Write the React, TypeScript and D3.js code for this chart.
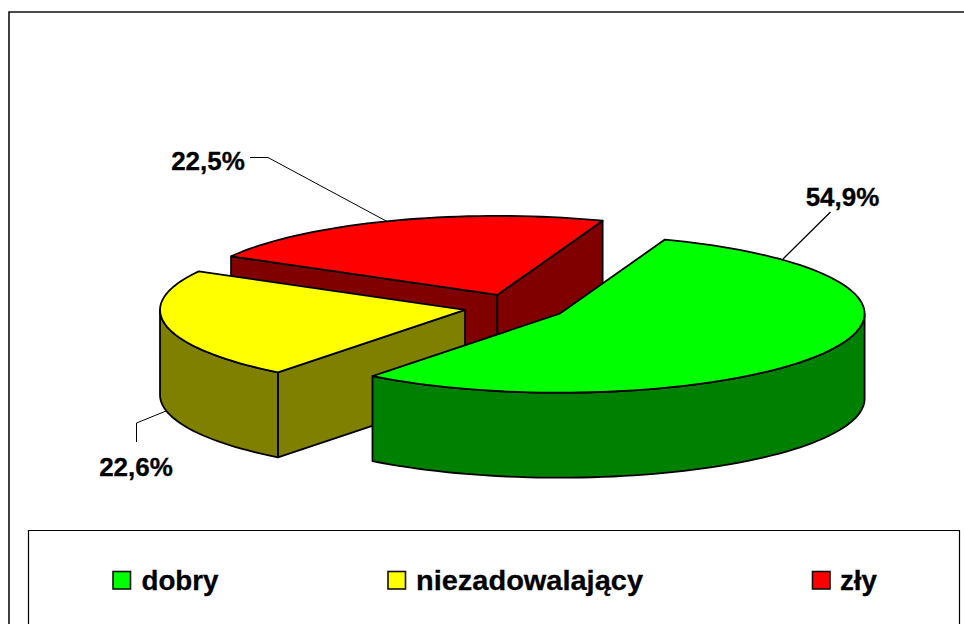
import React from 'react';
import * as d3 from 'd3';

const categories = ['dobry', 'niezadowalający', 'zły'];
const values = [54.9, 22.6, 22.5];
const percentLabels = ['54,9%', '22,6%', '22,5%'];
const topColors = ['#00ff00', '#ffff00', '#ff0000'];
const wallColors = ['#008000', '#808000', '#800000'];

const width = 964;
const height = 624;

// pie geometry, all slices pulled away from the same middle
const cx = 515;
const cy = 307.3;
const rx = 305;
const ry = 79;
const depth = 85;
const explode = 51;

const deg = Math.PI / 180;
const startAngle = 20.2 * deg;

const pie = d3.pie<number>().sort(null).startAngle(startAngle).endAngle(startAngle + 2 * Math.PI);
const line = d3.line<[number, number]>().x(d => d[0]).y(d => d[1]);

const project = (ox: number, oy: number, a: number): [number, number] => [
  ox + rx * Math.sin(a),
  oy - ry * Math.cos(a),
];

const arcPoints = (ox: number, oy: number, a0: number, a1: number): [number, number][] => {
  const n = Math.max(2, Math.ceil((a1 - a0) / (2 * deg)));
  return d3.range(n + 1).map(i => project(ox, oy, a0 + ((a1 - a0) * i) / n));
};

const drop = (p: [number, number]): [number, number] => [p[0], p[1] + depth];

// label text position and leader line per slice
const labelLayout = [
  { x: 842.5, y: 206, leader: [[830.5, 212], [783, 259]] as [number, number][], w: 1.3 },
  { x: 136, y: 476, leader: [[136.5, 442], [136.5, 423], [166, 411]] as [number, number][], w: 1 },
  { x: 208, y: 170, leader: [[250, 157.5], [268, 157.5], [388, 222]] as [number, number][], w: 1 },
];

const legendSwatchX = [113, 388, 812.5];
const legendTextX = [141.5, 416, 840];
const legendTextWidth = [77, 227, 37];
const font = '"Liberation Sans", Arial, sans-serif';

const App = () => {
  const arcs = pie(values);

  const slices = arcs.map((d, i) => {
    const mid = (d.startAngle + d.endAngle) / 2;
    const ox = cx + explode * Math.sin(mid);
    const oy = cy - explode * (ry / rx) * Math.cos(mid);
    const apex: [number, number] = [ox, oy];
    const rim = arcPoints(ox, oy, d.startAngle, d.endAngle);
    const top = line([apex, ...rim]) + 'Z';

    const walls: string[] = [];
    // radial walls, only where they face the viewer
    const startCorner = project(ox, oy, d.startAngle);
    const endCorner = project(ox, oy, d.endAngle);
    if (Math.cos(d.startAngle - Math.PI / 2) < 0) {
      walls.push(line([apex, startCorner, drop(startCorner), drop(apex)]) + 'Z');
    }
    if (Math.cos(d.endAngle + Math.PI / 2) < 0) {
      walls.push(line([apex, endCorner, drop(endCorner), drop(apex)]) + 'Z');
    }
    // outer wall, the front half of the ellipse only
    const a0 = Math.max(d.startAngle, Math.PI / 2);
    const a1 = Math.min(d.endAngle, (3 * Math.PI) / 2);
    if (a1 > a0) {
      const upper = arcPoints(ox, oy, a0, a1);
      walls.push(line([...upper, ...upper.map(drop).reverse()]) + 'Z');
    }
    return { i, top, walls };
  });

  // back slice first
  const order = [2, 1, 0];

  return (
    <svg
      width={width}
      height={height}
      style={{ position: 'absolute', left: 0, top: 0, background: '#fff' }}
      fontFamily={font}
    >
      <path d={`M9,${height}V12H${width}`} fill="none" stroke="#111" strokeWidth={1.6} />

      {order.map(k => (
        <g key={k} stroke="#000" strokeWidth={1.8} strokeLinejoin="round">
          {slices[k].walls.map((w, j) => (
            <path key={j} d={w} fill={wallColors[k]} />
          ))}
          <path d={slices[k].top} fill={topColors[k]} />
        </g>
      ))}

      {labelLayout.map((l, i) => (
        <g key={i}>
          <path d={line(l.leader) as string} fill="none" stroke="#000" strokeWidth={l.w} />
          <text
            x={l.x}
            y={l.y}
            textAnchor="middle"
            fontSize={26}
            fontWeight="bold"
            fill="#000"
            stroke="#000"
            strokeWidth={0.3}
          >
            {percentLabels[i]}
          </text>
        </g>
      ))}

      <path d={`M28.5,${height}V530.5H959.5V${height}`} fill="#fff" stroke="#000" strokeWidth={1.2} />
      {categories.map((c, i) => (
        <g key={c}>
          <rect
            x={legendSwatchX[i]}
            y={571.5}
            width={17.5}
            height={17.5}
            fill={topColors[i]}
            stroke="#111"
            strokeWidth={1.6}
          />
          <text
            x={legendTextX[i]}
            y={589.5}
            fontSize={28}
            fontWeight="bold"
            fill="#000"
            stroke="#000"
            strokeWidth={0.3}
            textLength={legendTextWidth[i]}
            lengthAdjust="spacingAndGlyphs"
          >
            {c}
          </text>
        </g>
      ))}
    </svg>
  );
};

export default App;
